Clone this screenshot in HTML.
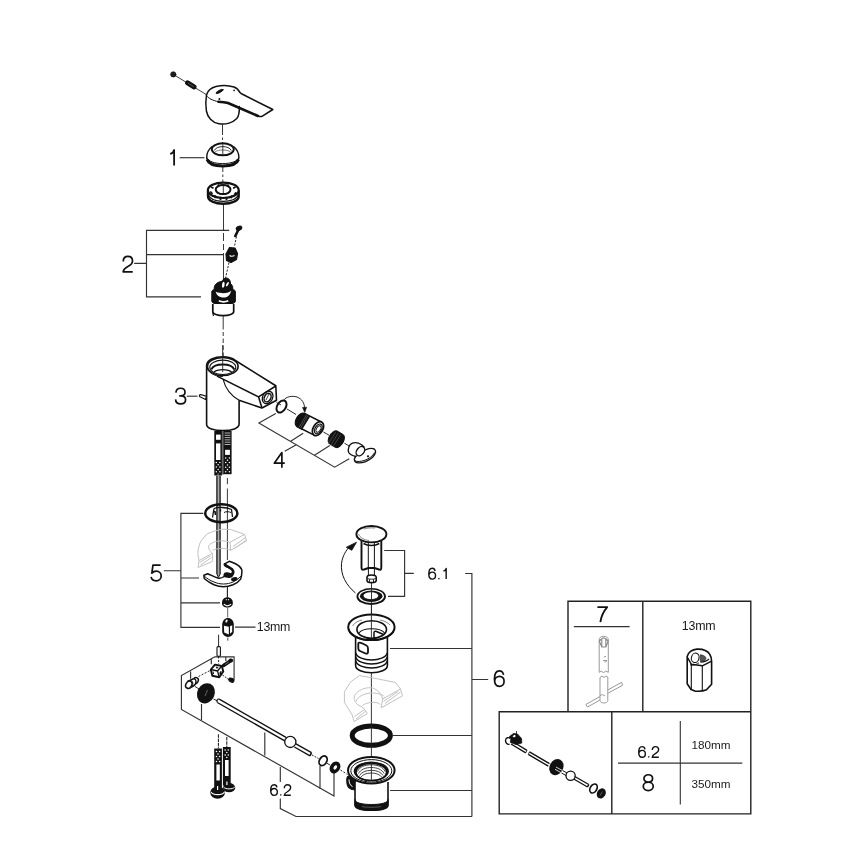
<!DOCTYPE html>
<html><head><meta charset="utf-8">
<style>
html,body{margin:0;padding:0;background:#fff;width:868px;height:868px;overflow:hidden}
svg{display:block;will-change:transform}
text{font-family:"Liberation Sans",sans-serif;fill:#1a1a1a}
</style></head><body>
<svg width="868" height="868" viewBox="0 0 868 868">
<rect width="868" height="868" fill="#fff"/>
<!-- BRACKETS -->
<g fill="none" stroke="#333" stroke-width="1.15">
 <path d="M179.7,157.7H204.4"/>
 <path d="M229.2,230.4H146.5V296.8H201M146.5,254.6H223.5M134.2,263.4H146.5"/>
 <path d="M186.7,396.2H197.5"/>
 <path d="M275.8,413.4L258.9,423L334.7,467.2L349.2,458.8M290.3,441.6L303.2,433.2M314.5,455.3L329.8,445.6M284.7,451.3L296.8,444.6"/>
 <path d="M203.3,513.4H180.9V627.4H220M180.9,578H199M180.9,602.8H220M163.8,570.7H180.9M235,627.1H255.5"/>
 <path d="M214.9,656.8L181.4,675.6V709.5L334,795.9V768M214.9,656.8H234.1V679.8M190.6,671.5V678.7M211.3,658.5V664.2M225.8,657.5V661M201.5,704V720M264.8,732.5V755.6M320,766V789M280.3,767V782M280.3,798.5V808.6L296,816.5H472"/>
 <path d="M384.2,550.5H404.6V596.3H388M404.6,573.4H413.8"/>
 <path d="M465.2,573.5H471.9V816.5M390,648.5H471.9M393,735.5H471.9M390,790.5H471.9M471.9,679.5H488.2"/>
</g>
<!-- BOXES -->
<g fill="none" stroke="#222" stroke-width="1.4">
 <path d="M568,711.8V601.3H750.8V813.9H499.2V711.8H750.8M642.8,601.3V711.8M611.8,711.8V813.9"/>
</g>
<g fill="none" stroke="#333" stroke-width="1.1">
 <path d="M573.8,626.6H629.6M680.3,721V804.4M618,763.1H742.3"/>
</g>

<!-- ===== HANDLE ===== -->
<g fill="none" stroke="#111" stroke-linejoin="round" stroke-linecap="round">
 <circle cx="173.3" cy="74.4" r="2.6" fill="#222" stroke="#111" stroke-width="0.8"/>
 <path d="M173.3,74.4L206.5,94.7" stroke-width="0.8"/>
 <path d="M187.6,82.8L194,86.8" stroke-width="5"/>
 <path d="M188.2,83.2L193.4,86.4" stroke="#666" stroke-width="0.8"/>
 <path d="M206.5,94.7C208,90 212,87.5 216,86.5C220,85.5 228,85 234,87C237,88 238.5,90 240,92.5C240.8,93.6 242,94 243,94.5L272.8,109.5L262,116.4C260.5,116.9 259.5,116.5 258,116" stroke-width="1.5" fill="#fff"/>
 <path d="M258,116L228,103C225,102 222,101.8 218.4,101.7" stroke-width="2.6"/>
 <path d="M218.4,101.7C213,100.5 208,98.5 206.5,95.5" stroke-width="1"/>
 <path d="M206.5,95C205.5,101 205.6,106 206.4,111C207.5,117 212,122.5 219,123.8C226,125 233,122.5 236.8,118.5C239,116 239.5,112 239.3,106.5" stroke-width="1.5"/>
 <ellipse cx="219.6" cy="91.4" rx="4" ry="1.15" transform="rotate(-28 219.6 91.4)" fill="#111" stroke-width="0.8"/>
 <circle cx="234.1" cy="90.3" r="0.9" fill="#111" stroke="none"/>
 <circle cx="219.4" cy="98.9" r="1" fill="#111" stroke="none"/>
</g>
<!-- axis handle->cap -->
<g stroke="#222" stroke-width="0.9" fill="none">
 <path d="M222.5,124.6V135M222.5,137.5V140M222.5,142V152" />
 <path d="M222.8,167V172M222.8,174.5V177M222.8,179.5V184"/>
 <path d="M223.5,204V230.5M223.5,233V241M223.5,244V250M223.5,253V281"/>
</g>

<!-- ===== CAP 1 ===== -->
<g fill="none" stroke="#111">
 <path d="M212,146.5C208.5,149.5 206.7,153 206.7,157.2C206.7,162.6 214,166.4 222.8,166.4C231.6,166.4 238.9,162.6 238.9,157.2C238.9,153 237,149.5 233.6,146.5" stroke-width="1.4" fill="#fff"/>
 <path d="M207.2,159.5C208.8,164 215.3,166 222.8,166C230.3,166 236.8,164 238.4,159.5" stroke-width="3.2"/>
 <path d="M206.9,157.5C208,161.5 215,163.6 222.8,163.6C230.6,163.6 237.6,161.5 238.7,157.5" stroke-width="1"/>
 <ellipse cx="222.8" cy="149.3" rx="11" ry="6" stroke-width="1.9" fill="#fff"/>
 <path d="M214.3,150.5C215.5,147.8 219,146.6 222.8,146.6C226.6,146.6 230,147.8 231.3,150.5" stroke-width="0.9"/>
 <path d="M215,152C217,150.5 219.5,150 222.8,150C226,150 228.8,150.5 230.6,152" stroke-width="0.8" stroke="#555"/>
 <path d="M222.8,143.5V154.5" stroke-width="0.8"/>
</g>

<!-- ===== NUT (below cap) ===== -->
<g fill="none" stroke="#111" stroke-linejoin="round">
 <path d="M207.9,190.5V196.3C207.9,200.8 215,204 223.3,204C231.6,204 238.8,200.8 238.8,196.3V190.5" stroke-width="2.2" fill="#fff"/>
 <ellipse cx="223.3" cy="190.3" rx="15.4" ry="7.7" stroke-width="2.2" fill="#fff"/>
 <path d="M208.4,195C210,199.2 216,201.3 223.3,201.3C230.6,201.3 236.6,199.2 238.3,195" stroke-width="1.3"/>
 <path d="M208.6,197.5C210,201 216,203 223.3,203C230.6,203 236.6,201 238.1,197.5" stroke-width="1"/>
 <ellipse cx="223.1" cy="189.6" rx="7.4" ry="4.5" stroke-width="2"/>
 <path d="M216.3,191.8C218,193.8 220.5,194.3 223.1,194.3C225.7,194.3 228.2,193.8 229.9,191.8" stroke-width="1"/>
 <path d="M210.3,191.5l2.2,2.5M214.5,195.3l1.2,2.8M220.5,197v3M226.5,197v3M232,195.5l-1,2.8M236.3,192.3l-2,2.2M211,187l2.5,1.2M235.6,187l-2.5,1.2M218,184.5l1,1.5M228.5,184.5l-1,1.5" stroke-width="1.8"/>
 <path d="M223.3,186V193" stroke-width="0.8"/>
</g>
<!-- ===== CARTRIDGE GROUP 2 ===== -->
<g fill="none" stroke="#111" stroke-linejoin="round">
 <!-- small screw -->
 <path d="M238.5,229.5L235.3,236" stroke-width="2.6" stroke-linecap="round"/>
 <ellipse cx="239" cy="228.3" rx="2.9" ry="2" transform="rotate(-25 239 228.3)" fill="#111" stroke-width="1"/>
 <path d="M236.5,236.5L234.6,245.5" stroke-width="0.9" stroke-dasharray="2.2 1.4"/>
 <!-- hex nut -->
 <path d="M229.5,247.5L235,248L237.5,253.5L236.5,259.5L231,262.5L226.5,260.5L226,254Z" fill="#111" stroke-width="1.2"/>
 <path d="M229.5,255.5C231,256.5 233,256.3 234.5,255.5" stroke="#fff" stroke-width="1.1"/>
 <path d="M229,262.5L225.5,278" stroke-width="0.9" stroke-dasharray="2.2 1.4"/>
 <!-- cartridge -->
 <path d="M214.2,292V288C214.2,284.2 218.3,281.3 223.5,281.3C228.7,281.3 232.8,284.2 232.8,288V292Z" fill="#111" stroke-width="1"/>
 <path d="M221.4,286C221,281.5 223,278.2 226,278C229,278 230.8,280.5 230.4,285Z" fill="#111" stroke-width="1"/>
 <ellipse cx="223.3" cy="284.7" rx="1.3" ry="3" transform="rotate(8 223.3 284.7)" fill="#fff" stroke="none"/>
 <ellipse cx="227.4" cy="284.2" rx="1" ry="2.4" transform="rotate(30 227.4 284.2)" fill="#fff" stroke="none"/>
 <path d="M211.8,291.5C211.8,289.5 217,288.5 223.6,288.5C230.2,288.5 235.4,289.5 235.4,291.5V301C235.4,303.5 230.2,305 223.6,305C217,305 211.8,303.5 211.8,301Z" fill="#111" stroke-width="1"/>
 <path d="M215.6,291.8C217,296 220,297.6 223.6,297.6C227.2,297.6 229.8,296 231.2,290.8C228.5,292.6 226,293.2 223.6,293.2C221,293.2 218.3,292.8 215.6,291.8Z" fill="#fff" stroke="none"/>
 <path d="M218.8,300.8C220.5,301.6 222,301.8 223.6,301.8C225.2,301.8 226.7,301.6 228.3,300.8" stroke="#fff" stroke-width="1.8"/>
 <path d="M212.8,304V311.5C212.8,314 217.5,315.6 223.2,315.6C228.9,315.6 233.7,314 233.7,311.5V304" stroke-width="1.7" fill="#fff"/>
 <path d="M212.8,312.5L213.5,316" stroke-width="1.2"/>
</g>
<g stroke="#222" stroke-width="0.9" fill="none">
 <path d="M223.2,316V329.5M223.2,332V336M223.2,338.5V343M223.2,345.5V350M223.2,352.5V375"/>
</g>

<!-- ===== FAUCET BODY 3 ===== -->
<g fill="none" stroke="#111" stroke-linejoin="round">
 <path d="M206.6,365V424.5C206.6,428.3 214,430.6 223,430.6C232,430.6 239.1,428.3 239.1,424V400.3" stroke-width="1.6" fill="#fff"/>
 <path d="M206.6,365C207.5,360 214,356.8 222.8,356.8C228,356.8 232.5,358 235,360.2L275.8,385.8L276.5,400.3L262,408L239.1,400.3" stroke-width="1.6" fill="#fff"/>
 <path d="M206.6,366C207,372 214,376.5 222.8,376.5" stroke-width="1"/>
 <path d="M217,376.1L258.5,396.8L275.8,386" stroke-width="1.5"/>
 <path d="M258.5,396.8L262,408" stroke-width="1.5"/>
 <path d="M223.2,379.6C225,387 230,395 239.1,400.3" stroke-width="1.1"/>
 <ellipse cx="222.8" cy="366.5" rx="15.3" ry="9" stroke-width="1.6"/>
 <ellipse cx="222.8" cy="367.3" rx="13" ry="7.2" stroke-width="1.1"/>
 <path d="M211.3,369.5C212.5,366.3 217,364.5 222.8,364.5C228.6,364.5 233,366.3 234.3,369.5" stroke-width="2"/>
 <path d="M213.5,372.3C215.5,370.5 219,369.6 222.8,369.6C226.6,369.6 230,370.5 232.1,372.3" stroke-width="1.1"/>
 <path d="M222.7,345V372" stroke="#222" stroke-width="0.9"/>
 <ellipse cx="267.6" cy="397.4" rx="5" ry="6.6" transform="rotate(28 267.6 397.4)" stroke-width="1.3"/>
 <ellipse cx="267.6" cy="397.6" rx="3.2" ry="4.5" transform="rotate(28 267.6 397.6)" stroke-width="1.5"/>
 <path d="M266,400L269,394" stroke-width="0.8"/>
 <!-- pin -->
 <path d="M200.6,394.6C199.4,394.4 199,396 200,396.8L205.5,399.5L206.5,396.4L201.5,394.8Z" fill="#fff" stroke-width="1.2"/>
</g>

<!-- ===== HOSES (upper) ===== -->
<g stroke="none">
 <rect x="221.5" y="431" width="2.5" height="43.5" fill="#666"/>
 <rect x="214.3" y="431" width="7.6" height="44.5" fill="#111"/>
 <rect x="223.6" y="431" width="8" height="43.2" fill="#111"/>
 <rect x="216" y="434.6" width="4.6" height="5.2" fill="#fff"/>
 <rect x="216" y="443.4" width="4.4" height="16.6" fill="#fff"/>
 <rect x="225.1" y="449.8" width="4.8" height="5.1" fill="#fff"/>
 <path d="M224.6,433h5.8M224.6,435.3h5.8M224.6,437.6h5.8M224.6,439.9h5.8M224.6,442.2h5.8M224.6,444.5h5.8" stroke="#ddd" stroke-width="0.8"/>
 <g fill="#fff">
  <circle cx="216.3" cy="462.5" r="0.75"/><circle cx="219.9" cy="462.5" r="0.75"/>
  <circle cx="218.1" cy="464.8" r="0.75"/>
  <circle cx="216.3" cy="467.1" r="0.75"/><circle cx="219.9" cy="467.1" r="0.75"/>
  <circle cx="218.1" cy="469.4" r="0.75"/>
  <circle cx="216.3" cy="471.7" r="0.75"/><circle cx="219.9" cy="471.7" r="0.75"/>
  <circle cx="218.1" cy="474" r="0.6"/>
  <circle cx="225.7" cy="458" r="0.75"/><circle cx="229.4" cy="458" r="0.75"/>
  <circle cx="227.5" cy="460.3" r="0.75"/>
  <circle cx="225.7" cy="462.6" r="0.75"/><circle cx="229.4" cy="462.6" r="0.75"/>
  <circle cx="227.5" cy="464.9" r="0.75"/>
  <circle cx="225.7" cy="467.2" r="0.75"/><circle cx="229.4" cy="467.2" r="0.75"/>
  <circle cx="227.5" cy="469.5" r="0.75"/>
  <circle cx="225.7" cy="471.8" r="0.75"/><circle cx="229.4" cy="471.8" r="0.75"/>
 </g>
</g>
<g fill="none" stroke="#111">
 <rect x="216.9" y="475.8" width="3.2" height="98.2" fill="#aaa" stroke="none"/>
 <path d="M216.9,475.8V574M220.1,475.8V574" stroke-width="1.25"/>
 <path d="M216.9,574L218.5,577.3L220.1,574" stroke-width="1" fill="#aaa"/>
 <path d="M227.4,478V484.2M227.4,488.5V560" stroke="#222" stroke-width="0.9"/>
</g>

<!-- ===== GROUP 4 (aerator) ===== -->
<g fill="none" stroke="#111" stroke-linejoin="round">
 <path d="M276.5,402.5L281,405" stroke-width="0.9"/>
 <path d="M287,409L296,414.5" stroke-width="0.9"/>
 <ellipse cx="281.5" cy="406.5" rx="4.3" ry="6.6" transform="rotate(32 281.5 406.5)" stroke-width="2"/>
 <!-- arrow -->
 <path d="M283.5,400.5C286,396.5 292,395.5 297,397C302,399 304.5,403 304.5,408" stroke-width="0.9"/>
 <path d="M302.5,407.5L304.8,412.5L306.6,407.2Z" fill="#111" stroke-width="0.6"/>
 <!-- aerator -->
 <path d="M304.4,413.4L321.9,422.3L314.1,435.1L296.6,426.2Z" fill="#fff" stroke="none"/>
 <path d="M304.4,413.4L321.9,422.3M296.6,426.2L314.1,435.1" stroke-width="1.6"/>
 <path d="M304.4,413.4L309.5,416.5L301.7,429.3L296.6,426.2A4.4,7.5 31 0 1 304.4,413.4Z" fill="#111" stroke-width="1.2"/>
 <path d="M306.5,414.8L299,427.3M308,415.6L300.5,428.2" stroke="#777" stroke-width="0.6"/>
 <ellipse cx="318" cy="428.7" rx="4.8" ry="7.6" transform="rotate(31 318 428.7)" fill="#fff" stroke-width="1.7"/>
 <ellipse cx="318.3" cy="428.9" rx="3.2" ry="5.3" transform="rotate(31 318.3 428.9)" stroke-width="1.3"/>
 <ellipse cx="318.5" cy="429" rx="2" ry="3.5" transform="rotate(31 318.5 429)" stroke-width="0.9"/>
 <path d="M323.4,432L329,435.2" stroke-width="0.9"/>
 <!-- nut -->
 <path d="M337.2,431L343.2,434.6A4.2,7.5 31 0 1 335.4,447.4L329.4,443.8A4.2,7.5 31 0 1 337.2,431Z" fill="#111" stroke-width="1"/>
 <path d="M335.8,431.8L328.2,444M338.2,433.2L330.6,445.4M340.6,434.6L333,446.8" stroke="#666" stroke-width="0.6"/>
 <path d="M344.4,443.2L350,446.5" stroke-width="0.9"/>
 <!-- key -->
 <path d="M356.8,455.5C360,452 363.5,450.2 366,449.6C369,448.4 372,447.9 374.2,449C376.6,450.5 375.8,454 372.6,457.2C368.6,460.6 363,462.9 358.5,462.9C355.5,462.9 354.1,461 354.4,459C354.7,457.5 355.8,456.3 356.8,455.5Z" fill="#fff" stroke-width="1.4"/>
 <path d="M355,460.8C357,462 361,461.6 365,460.2C369,458.8 372.8,456 374.6,452.6" stroke-width="1"/>
 <circle cx="368" cy="456.3" r="1.1" fill="#111" stroke="none"/>
 <path d="M348.6,452.2C347.6,448.8 349,444.6 352.4,443.2C355,442.2 358.2,442.6 361.6,444.8L364.3,447.2L356.5,455.8L350.5,454Z" fill="#fff" stroke="none"/>
 <path d="M348.6,452.2C347.6,448.8 349,444.6 352.4,443.2C355,442.2 358.2,442.6 361.6,444.8L364.3,447.2M348.6,452.2C349.5,454 352,455.5 356,456.5" stroke-width="1.3"/>
 <ellipse cx="360.4" cy="451.2" rx="3.6" ry="5.2" transform="rotate(38 360.4 451.2)" fill="#fff" stroke-width="1.4"/>
</g>

<!-- ===== GROUP 5 parts ===== -->
<g fill="none" stroke="#111" stroke-linejoin="round">
 <ellipse cx="221.3" cy="513.3" rx="16.1" ry="9" stroke-width="2.5"/>
 <path d="M214,508.5L212.5,517.5M214,508.5C218,507 226,507 231.5,509.5L232.5,517M220.5,509.2L220.5,511.5" stroke-width="1.3"/>
 <path d="M213,511.5L215,511.5L215.5,515" stroke-width="1.6"/>
 <path d="M224,512.5C226,511.3 229,511.5 231,512.5" stroke-width="1"/>
</g>
<!-- grey wedge -->
<g fill="none" stroke="#c2c2c2" stroke-width="1" stroke-linejoin="round">
 <path d="M198.9,560.6L197.9,553.7C198,548 199.5,543.5 201.3,540.6L206.5,534.4C210,532.5 213,531.3 216.2,530.6C219,529.8 221,529.3 223.1,529.2L230.7,529.5L244.5,534.4L230,542.3C228,541.5 225.5,540.9 223.1,540.9C218,540.9 214,541.5 212.7,542.7C210,543.8 208.6,545.5 208.6,546.8C208.6,549 209.5,550.5 212.4,553.4Z"/>
 <path d="M244.5,534.4L246.6,540.9L230.7,550.3L230,542.3M233,546.5L245,538M234.2,548.6L245.8,540.5"/>
 <path d="M212.4,553.4L212.7,561.3L198.2,567.5L198.9,560.6M200.5,565L211.5,557.5M199.5,562.5L210.5,555.8"/>
 <path d="M230.7,550.3C228,549 225.5,548.5 223.1,548.5C218,548.5 214.5,549.2 212.7,550.3"/>
</g>
<!-- c-clip -->
<g fill="none" stroke="#111" stroke-linejoin="round" stroke-linecap="round">
 <path d="M227.5,573V597" stroke="#222" stroke-width="0.9"/>
 <path d="M203.9,575.3L207.7,573.7C211,575 214.5,577 218,578C220.5,578.6 222,578 224,576.5L231.5,574C233.5,572 233,569.5 231,568.5C229,567.5 226,566.8 225.2,566C224.5,565 224.5,564 224.8,563.9L229.2,561.3C233,562.5 237,564 239.4,566.4C241.5,568.5 242.2,570 241.9,571.8C241.8,575 241.3,577.5 240.6,579.1C239,581.5 236,583.5 233,584.8C230,586 227,586.7 223.5,586.7C220,586.7 217,586 214,584.8C210,583 207,581 204.5,578.8C204,578 203.9,577 203.9,575.3Z" fill="#fff" stroke-width="1.5"/>
 <path d="M204.5,576.3C207,578.5 210,580.5 214,582C217,583.3 220,584 223.5,584C227,584 230,583.3 233,582C236,580.5 239,578.5 241,576.3" stroke-width="1"/>
 <path d="M224.8,564.3C227,566.5 230,567.5 232.2,569.5C233.5,571 233.3,573.5 231.8,575.3" stroke-width="2.6"/>
 <ellipse cx="228" cy="575.2" rx="4.6" ry="2.7" transform="rotate(10 228 575.2)" fill="#111" stroke="none"/>
 <ellipse cx="234.3" cy="579.1" rx="3.3" ry="2" transform="rotate(-15 234.3 579.1)" fill="#111" stroke="none"/>
 <path d="M227.3,588.6V597" stroke="#222" stroke-width="0.9"/>
</g>
<!-- small nut + cap nut -->
<g fill="none" stroke="#111" stroke-linejoin="round">
 <path d="M222,602.5C222,599.3 224.5,597.2 227.4,597.2C230.3,597.2 232.8,599.3 232.8,602.5V603.5C232.8,606 230.3,607.5 227.4,607.5C224.5,607.5 222,606 222,603.5Z" fill="#111" stroke="none"/>
 <path d="M223.8,604.2C225,605.4 226.2,605.8 227.4,605.8C228.6,605.8 229.8,605.4 231,604.2" stroke="#fff" stroke-width="1.2"/>
 <circle cx="226.3" cy="599.7" r="0.6" fill="#fff" stroke="none"/>
 <circle cx="228.6" cy="599.7" r="0.6" fill="#fff" stroke="none"/>
 <path d="M227.7,607.5V617.5" stroke="#555" stroke-width="0.9"/>
 <path d="M222.2,624.5C222.2,620.5 225,617.9 228,617.9C231,617.9 233.8,620.5 233.8,624.5V631.5C233.8,634.5 231,636.9 228,636.9C225,636.9 222.2,634.5 222.2,631.5Z" fill="#111" stroke="none"/>
 <path d="M223.9,625.8L228.8,626.8V634.6L224.2,632.6Z" fill="#fff" stroke="none"/>
 <path d="M230,626.3L232.2,625.2V631.8L230,633.8Z" fill="#fff" stroke="none"/>
 <ellipse cx="226.5" cy="621" rx="0.9" ry="1.7" transform="rotate(25 226.5 621)" fill="#fff" stroke="none"/>
 <path d="M227.8,637.5V640.7" stroke="#333" stroke-width="0.9"/>
</g>
<!-- ===== LOWER LEFT ASSEMBLY ===== -->
<g fill="none" stroke="#111" stroke-linejoin="round">
 <path d="M218.6,634.7V646.6" stroke-width="0.9"/>
 <rect x="217" y="646.6" width="3.4" height="9.6" rx="1" fill="#fff" stroke-width="1.1"/>
 <path d="M218.6,656.5V664" stroke-width="0.9" stroke-dasharray="2 1.5"/>
 <!-- cube -->
 <path d="M210.8,669.5L215,664.6L221.8,666L223.3,671.5L219.3,677.3L212.3,675.7Z" fill="#fff" stroke-width="1.9"/>
 <path d="M210.8,669.5L217.5,671L221.8,666M217.5,671L219.3,677.3" stroke-width="1.3"/>
 <path d="M213,671.5L213.5,674.2M219.5,673.5L221,671.5L220,675" stroke-width="1.1"/>
 <path d="M215.5,666.5L218.5,667L217,669Z" fill="#111" stroke="none"/>
 <!-- screw diag -->
 <path d="M223.5,665.5L231,660.5" stroke-width="3.4" stroke-linecap="round"/>
 <path d="M225,664.5L229.5,661.5" stroke="#777" stroke-width="0.8"/>
 <ellipse cx="230.8" cy="660.6" rx="2.3" ry="2" fill="#111" stroke="none"/>
 <!-- small screw -->
 <path d="M222.5,675L228,679" stroke-width="0.9" stroke-dasharray="1.8 1.2"/>
 <ellipse cx="231.5" cy="680.2" rx="3.1" ry="2.4" transform="rotate(30 231.5 680.2)" fill="#111" stroke="none"/>
 <path d="M228.5,678.5L230.5,680" stroke="#111" stroke-width="2.2"/>
 <!-- small cylinder -->
 <path d="M198.5,676.5L210.5,670.3" stroke-width="0.9" stroke-dasharray="2 1.5"/>
 <ellipse cx="195.6" cy="680.6" rx="2.6" ry="3.1" transform="rotate(30 195.6 680.6)" fill="#fff" stroke-width="1.4"/>
 <path d="M187.5,681.5L193,679C194.5,678.4 196,679.5 196,681.5C196,683.5 194.5,685.5 193,686.3L189.5,688" fill="#fff" stroke-width="1.4"/>
 <ellipse cx="188.8" cy="684.7" rx="2.9" ry="3.8" transform="rotate(30 188.8 684.7)" fill="#fff" stroke-width="1.5"/>
 <path d="M191.5,680.5C193,681.5 193.3,684 192.3,686" stroke-width="0.9"/>
 <path d="M195,686.5L199,689" stroke-width="0.9"/>
 <!-- knob -->
 <ellipse cx="205.9" cy="693.3" rx="8.7" ry="10.4" transform="rotate(25 205.9 693.3)" fill="#111" stroke="none"/>
 <path d="M205,696L207.5,690" stroke="#888" stroke-width="0.7"/>
 <path d="M213.5,699L217.5,701" stroke-width="0.9"/>
 <!-- long rod -->
 <path d="M219.2,699.2L286,737.3M217.3,702.5L284.3,740.6" stroke-width="1.35"/>
 <path d="M219.2,699.2C217.5,698.5 216.3,701 217.3,702.5" stroke-width="1.1"/>
 <circle cx="290.3" cy="741.9" r="5.6" fill="#fff" stroke-width="1.3"/>
 <path d="M295.5,743.7L311.5,752.7M294.4,747L310,755.8" stroke-width="1.35"/>
 <path d="M311.5,752.7L310,755.8" stroke-width="1.6"/>
 <path d="M312,755L318.5,758.5" stroke-width="0.9" stroke-dasharray="1.8 1.2"/>
 <ellipse cx="323.1" cy="760.8" rx="3.6" ry="5.1" transform="rotate(30 323.1 760.8)" stroke-width="1.8"/>
 <path d="M326.5,763L330,765" stroke-width="0.9"/>
 <ellipse cx="335" cy="767.5" rx="5" ry="6.3" transform="rotate(35 335 767.5)" fill="#111" stroke="none"/>
 <ellipse cx="335.3" cy="767.4" rx="1.5" ry="2.4" transform="rotate(35 335.3 767.4)" fill="#fff" stroke="none"/>
 <path d="M340.5,770L347.5,774.5" stroke-width="0.9" stroke-dasharray="2 1.5"/>
</g>

<!-- ===== LOWER HOSES ===== -->
<g stroke="none">
 <path d="M218.4,734.3V748.5M226.8,737V747" stroke="#111" stroke-width="1" stroke-dasharray="3.5 0.8"/>
 <rect x="214.2" y="748.5" width="7.7" height="40" fill="#111"/>
 <rect x="222.9" y="747" width="7.8" height="38.5" fill="#111"/>
 <rect x="216.4" y="764.5" width="3.4" height="16" fill="#fff"/>
 <rect x="225" y="760" width="3.6" height="16" fill="#fff"/>
 <g fill="#fff">
  <circle cx="216.5" cy="751.5" r="0.8"/><circle cx="219.6" cy="751.5" r="0.8"/>
  <circle cx="218" cy="754" r="0.8"/>
  <circle cx="216.5" cy="756.5" r="0.8"/><circle cx="219.6" cy="756.5" r="0.8"/>
  <circle cx="218" cy="759" r="0.8"/>
  <circle cx="216.5" cy="761.5" r="0.8"/><circle cx="219.6" cy="761.5" r="0.8"/>
  <circle cx="225.2" cy="750" r="0.8"/><circle cx="228.3" cy="750" r="0.8"/>
  <circle cx="226.8" cy="752.5" r="0.8"/>
  <circle cx="225.2" cy="755" r="0.8"/><circle cx="228.3" cy="755" r="0.8"/>
  <circle cx="226.8" cy="757.5" r="0.8"/>
 </g>
 <ellipse cx="229.1" cy="787.7" rx="6.2" ry="4.6" fill="#111"/>
 <path d="M223.5,787C225,789.5 233,789.5 234.8,787" stroke="#fff" stroke-width="1" fill="none"/>
 <ellipse cx="217.6" cy="792.6" rx="7.4" ry="6.2" fill="#111"/>
 <path d="M211,792C213,795.5 222.5,795.5 224.5,792" stroke="#fff" stroke-width="1.1" fill="none"/>
 <rect x="217" y="786" width="1.2" height="4" fill="#fff"/>
 <rect x="226.3" y="781.5" width="1.2" height="3.5" fill="#fff"/>
</g>

<!-- ===== DRAIN: plug 6.1 ===== -->
<g fill="none" stroke="#111" stroke-linejoin="round">
 <path d="M361.5,541V567.5C361.5,569.5 362.3,570.3 364,569.5L368.5,568H374.5L379,569.5C380.5,570.3 381.3,569.5 381.3,567.5V541" fill="#fff" stroke-width="1.9"/>
 <path d="M368.3,542V568M374.4,542V568" stroke-width="1"/>
 <path d="M363.5,543.5C366,545 369,545.5 371.4,545.5C374,545.5 377,545 379.3,543.5" stroke-width="1.5"/>
 <ellipse cx="371.4" cy="534.2" rx="15" ry="8.2" fill="#fff" stroke-width="1.9"/>
 <path d="M358.5,534C360,538 364.5,540 369,540.5M364,529C367,528 371,527.6 375,528" stroke="#666" stroke-width="0.8"/>
 <path d="M368.4,568.5V575M374.4,568.5V575" stroke-width="1"/>
 <path d="M367,577.3C367,575.8 369,575 371.5,575C374,575 376.2,575.8 376.2,577.3V580.5C376.2,582 374,582.6 371.5,582.6C369,582.6 367,582 367,580.5Z" fill="#fff" stroke-width="1.6"/>
 <path d="M367.5,578.5C369,579.5 374,579.5 375.7,578.5M369.5,579.3V582M373.5,579.3V582" stroke-width="0.9"/>
 <!-- arrow arc -->
 <path d="M355.5,593C346,585 340.5,575 341.5,563.5C342.5,556 346,550 350,546.5" stroke-width="1"/>
 <path d="M356.5,542.2L346.3,547.3L351.8,550.3Z" fill="#111" stroke="#111" stroke-width="0.8"/>
 <!-- washer -->
 <ellipse cx="371.2" cy="596.5" rx="14.7" ry="8.4" fill="#111" stroke="none"/>
 <ellipse cx="371.2" cy="596.3" rx="12.8" ry="6.8" fill="#fff" stroke="none"/>
 <ellipse cx="371.2" cy="596.3" rx="11.3" ry="5.7" fill="#111" stroke="none"/>
 <ellipse cx="370.9" cy="595.7" rx="7.8" ry="3.9" fill="#fff" stroke="#111" stroke-width="0.8"/>
 <path d="M371.5,582.7V615" stroke="#222" stroke-width="0.9"/>
</g>

<!-- ===== DRAIN BODY ===== -->
<g fill="none" stroke="#111" stroke-linejoin="round">
 <path d="M355.6,637V665.5C355.6,670 363,672.8 371.5,672.8C380,672.8 387.4,670 387.4,665.5V637" fill="#fff" stroke-width="1.6"/>
 <path d="M355.8,653C357,657.5 364,660 371.5,660C379,660 386,657.5 387.2,653M355.8,657C357,661.5 364,664 371.5,664C379,664 386,661.5 387.2,657M355.8,661C357,665.5 364,668 371.5,668C379,668 386,665.5 387.2,661" stroke-width="1.4"/>
 <path d="M358.3,643.5C358.3,642.5 360,642.5 362,643.3L366.5,645.5C367.5,646 368,647 368,648.5V652C368,653.5 367,654 365.5,653.5L360,651C358.8,650.5 358.3,649.5 358.3,648.5Z" stroke-width="1.8"/>
 <ellipse cx="371.4" cy="627.2" rx="23.2" ry="12.8" fill="#fff" stroke-width="2"/>
 <path d="M348.8,629C350,636 360,640.3 371.4,640.3C382.8,640.3 393,636 394,629" stroke-width="1.5"/>
 <ellipse cx="371.7" cy="629.5" rx="14.8" ry="8.8" fill="#fff" stroke-width="1.6"/>
 <path d="M358.5,633.5C361,630 366,628.8 371.7,628.8C377.4,628.8 382.5,630 385,633.5" stroke-width="1.1"/>
 <path d="M374,638V632.5C374,631.3 375,631 376.5,631.5L383.5,634.5" stroke-width="1.5"/>
 <path d="M352.5,626C354.5,622.5 359,620.5 362,620M380,620C384.5,620.8 388,622.8 390,625" stroke="#666" stroke-width="0.8"/>
 <path d="M371.4,605V638M371.4,673V723.5" stroke="#222" stroke-width="0.9"/>
</g>
<!-- grey wedge (drain) -->
<g fill="none" stroke="#c2c2c2" stroke-width="1" stroke-linejoin="round">
 <path d="M352.1,714.8L344.4,702.3V691.8L350.5,682.1L359.4,675.6L373.9,678.1L395.6,682.5L400.5,689L382.7,699C381,693 376,688 370.6,687.7C365,687.5 357.5,690 354.5,695.8C353.5,699 355,702.5 357.5,704.5L363.4,707.9"/>
 <path d="M400.5,689L402.5,695.8L381.1,707.9L382.7,699M385,703.5L400.5,692M383.5,701.5L398,691.5"/>
 <path d="M363.4,707.9L367.4,713.5L354.1,721.6L352.1,714.8M356,719L366,711M354.5,716.5L364.5,709.5"/>
 <path d="M356.1,701.5C357,697.5 363,693 372.3,693C378,693 382.5,694.5 384.4,696.6M362.6,705.5C364,704 368,702.5 373.9,702.3C377,702.3 379,703.3 380.3,704.7"/>
</g>
<!-- ===== BLACK RING ===== -->
<ellipse cx="371.3" cy="735.6" rx="19.1" ry="9.7" fill="none" stroke="#111" stroke-width="5"/>
<path d="M371.4,723V762" stroke="#222" stroke-width="0.9"/>

<!-- ===== BASKET ===== -->
<g fill="none" stroke="#111" stroke-linejoin="round">
 <path d="M348.5,776C346.8,776.5 346.5,780 347,783.5C347.5,787 349.5,788.8 352,789.5L356,790L356,782Z" fill="#111" stroke-width="1.2"/>
 <path d="M349,779.5C349,782.5 350,785.5 352.5,786.5" stroke="#fff" stroke-width="1"/>
 <path d="M355,782V805C355,808.5 362,810.3 371.5,810.3C381,810.3 388,808.5 388,805V782" fill="#fff" stroke-width="1.6"/>
 <path d="M355,799.5V805C355,808.5 362,810.3 371.5,810.3C381,810.3 388,808.5 388,805V799.5C388,802.8 381,804.5 371.5,804.5C362,804.5 355,802.8 355,799.5Z" fill="#111" stroke-width="1"/>
 <path d="M362,806.5C366,807.5 377,807.5 381,806.5" stroke="#777" stroke-width="0.7"/>
 <ellipse cx="371.3" cy="770.3" rx="23.3" ry="13.2" fill="#fff" stroke-width="2"/>
 <ellipse cx="371.3" cy="770.8" rx="20.5" ry="11.2" fill="none" stroke-width="1"/>
 <ellipse cx="371.3" cy="771.3" rx="17.6" ry="9.8" fill="#111" stroke="none"/>
 <ellipse cx="371.3" cy="772.2" rx="14.4" ry="7.9" fill="#fff" stroke="none"/>
 <path d="M357.5,771.5C359.5,767 364.5,764.8 371.3,764.8C378.1,764.8 383,767 385.1,771.5" stroke="#444" stroke-width="1"/>
 <path d="M358.5,773.5C360.5,769.5 365.5,767.5 371.3,767.5C377.1,767.5 382,769.5 384.1,773.5" stroke="#444" stroke-width="1"/>
 <path d="M359.5,775.5C361.5,772 366,770.3 371.3,770.3C376.6,770.3 381,772 383.1,775.5" stroke="#444" stroke-width="1"/>
 <path d="M360.5,777.5C362.5,774.5 366.5,773 371.3,773C376.1,773 380,774.5 382.1,777.5" stroke="#444" stroke-width="1"/>
 <path d="M357,776C361,779.5 366,780.5 371.3,780.5C376.6,780.5 381.6,779.5 385.6,776" stroke-width="1.6"/>
 <path d="M371.4,762V780" stroke="#222" stroke-width="0.9"/>
</g>
<!-- ===== BOX 7 tool (grey) ===== -->
<g fill="none" stroke="#999" stroke-width="1" stroke-linejoin="round">
 <path d="M599.2,672.3V640C599.2,637.5 601,636.3 603.7,636.3C606.4,636.3 608.3,637.5 608.3,640V672.3L605.5,671L603.5,673L601.5,671Z"/>
 <path d="M599.3,641L601.8,647H605.8L608.2,641M601.8,647V639.5M605.8,647V639.5M601.5,639L603.7,637.8L606,639M599.3,641L601.5,639M608.2,641L606,639" stroke="#888" stroke-width="1.1"/>
 <path d="M604,657L606,656.5M603,660.5H607M604.5,662L606.5,661.5"/>
 <path d="M600,700.5V677.5L602,676L604,677.5L606,676L607.8,677V700.5C607.8,702 606,703 603.9,703C601.8,703 600,702 600,700.5Z"/>
 <path d="M585.8,704.5L600,696.5M587.5,707L600,700M607.8,690L621.6,682.3M607.8,693.3L622.5,685.3M621.6,682.3L622.5,685.3M585.8,704.5L587.5,707"/>
 <path d="M600,695.5C601.5,694.5 603.5,694.5 605,696" />
</g>
<!-- nut 13mm -->
<g fill="none" stroke="#111" stroke-linejoin="round">
 <path d="M687.2,656.5C688,652.5 692,649.4 697,649.1C702.5,648.9 707.5,650.6 709.7,654.2C711,656.2 711.6,658.5 711.6,661.2V684.2L706.5,689.8C703,691.3 699,691.5 695,691.1L691,689.5L687.2,683.8Z" fill="#fff" stroke-width="1.6"/>
 <path d="M687.2,657.2L691.3,664.2L702.3,665.8L711.6,661.2" stroke-width="1.4"/>
 <path d="M691.3,664.2V689.5M702.3,665.8V691.1" stroke-width="1.1"/>
 <path d="M700.3,654.8C703,655 705,656 705.8,657.6C706.2,659 705.5,660.5 703.3,661.2L700.3,661.5Z" fill="#555" stroke-width="0.6"/>
 <ellipse cx="695.2" cy="657.8" rx="3.8" ry="4.8" transform="rotate(15 695.2 657.8)" fill="#fff" stroke-width="1.1"/>
 <path d="M700.5,662.3C703.5,662 707,661 709,659" stroke-width="1.1"/>
 <path d="M690,664.5C692,666 695,665.2 699,662.8" stroke-width="0.9"/>
</g>

<!-- ===== BOX 8 rod icon ===== -->
<g fill="none" stroke="#111" stroke-linejoin="round">
 <path d="M512.5,741.5L527,750.3M511,744L525.8,752.8M529.5,751.8L549.5,763.7M528.3,754.3L548.3,766.2" stroke-width="1.35"/>
 <path d="M527,750.3L525.8,752.8M529.5,751.8L528.3,754.3" stroke-width="0.8"/>
 <path d="M509.5,736.5L513.5,733.5L517.5,734L521.5,738.5L521.8,743L516,744.5L510.5,742.5Z" fill="#111" stroke="#111" stroke-width="0.8"/>
 <path d="M512.5,736.2L514.5,734.8L516,736L514,737.5Z" fill="#fff" stroke="none"/>
 <path d="M510.5,738.5C508.5,737 506,737.5 505.6,740C505.2,742.5 507,744.8 509.5,744.3" fill="#fff" stroke-width="1.4"/>
 <path d="M507,739.5L509,742.5" stroke="#fff" stroke-width="0.6"/>
 <path d="M516.5,731V735.3" stroke-width="0.8"/>
 <ellipse cx="556.4" cy="767.1" rx="6.8" ry="8.4" transform="rotate(28 556.4 767.1)" fill="#111" stroke="none"/>
 <path d="M556,767L566,772.5M555,769.3L565,774.8" stroke="#fff" stroke-width="0.8"/>
 <path d="M562.5,770.5L567,773M561.5,773L566,775.5" stroke-width="1"/>
 <circle cx="570.6" cy="775.8" r="4.6" fill="#fff" stroke-width="1.3"/>
 <path d="M574.8,776.5L588.8,784.5M573.7,779L587.5,787" stroke-width="1.3"/>
 <path d="M588.8,784.5L587.5,787" stroke-width="1.6"/>
 <ellipse cx="593.5" cy="788.5" rx="3.3" ry="4.8" transform="rotate(30 593.5 788.5)" stroke-width="1.7"/>
 <ellipse cx="601.3" cy="793.4" rx="4.3" ry="5.3" transform="rotate(30 601.3 793.4)" fill="#111" stroke="none"/>
 <path d="M600,795.5L602.5,791.5" stroke="#777" stroke-width="0.7"/>
</g>

<g fill="none" stroke="#111" stroke-width="1.80" stroke-linecap="butt" stroke-linejoin="round"><path transform="translate(169.86,149.90) scale(1.1214,1.1214)" d="M0.3,3.6 C1.8,3.3 3.2,2.6 3.8,0.1 V14" vector-effect="non-scaling-stroke"/></g><g fill="none" stroke="#111" stroke-width="1.70" stroke-linecap="butt" stroke-linejoin="round"><path transform="translate(122.26,256.35) scale(1.1143,1.1143)" d="M0.9,4.6 C0.9,1.7 2.6,0 5,0 C7.5,0 9.2,1.7 9.2,4.1 C9.2,6.3 7.8,7.6 5.4,8.9 C2.6,10.4 1,11.8 0.8,13.9 H9.4" vector-effect="non-scaling-stroke"/></g><g fill="none" stroke="#111" stroke-width="1.70" stroke-linecap="butt" stroke-linejoin="round"><path transform="translate(174.99,388.25) scale(1.1143,1.1143)" d="M0.8,3.9 C1,1.4 2.8,0 5,0 C7.4,0 9,1.5 9,3.6 C9,5.6 7.5,6.8 5.2,6.8 H3.8 M5.2,6.8 C7.9,6.8 9.5,8.3 9.5,10.3 C9.5,12.6 7.6,14 5,14 C2.3,14 0.6,12.5 0.5,10" vector-effect="non-scaling-stroke"/></g><g fill="none" stroke="#111" stroke-width="1.70" stroke-linecap="butt" stroke-linejoin="round"><path transform="translate(273.80,452.15) scale(1.1214,1.1214)" d="M7.2,14 V0.3 L0.4,9.8 H9.8" vector-effect="non-scaling-stroke"/></g><g fill="none" stroke="#111" stroke-width="1.70" stroke-linecap="butt" stroke-linejoin="round"><path transform="translate(150.46,564.85) scale(1.1429,1.1429)" d="M8.9,0.2 H2.2 L1.2,7.3 C2.1,6.2 3.5,5.5 5.1,5.5 C7.7,5.5 9.4,7.3 9.4,9.7 C9.4,12.3 7.5,14 5,14 C2.6,14 0.9,12.7 0.6,10.6" vector-effect="non-scaling-stroke"/></g><g fill="none" stroke="#111" stroke-width="1.70" stroke-linecap="butt" stroke-linejoin="round"><path transform="translate(493.68,670.85) scale(1.1071,1.1071)" d="M8.9,3.6 C8.5,1.3 7,0 5.1,0 C2.1,0 0.7,2.8 0.7,7.4 C0.7,11.6 2.4,14 5.1,14 C7.7,14 9.4,12 9.4,9.3 C9.4,6.7 7.7,5 5.3,5 C2.8,5 0.9,6.8 0.9,9.3" vector-effect="non-scaling-stroke"/></g><g fill="none" stroke="#111" stroke-width="1.80" stroke-linecap="butt" stroke-linejoin="round"><path transform="translate(596.85,606.90) scale(1.0929,1.0929)" d="M0.5,0.2 H9.5 C6.3,3.8 4,8.5 3.2,14" vector-effect="non-scaling-stroke"/></g><g fill="none" stroke="#111" stroke-width="1.70" stroke-linecap="butt" stroke-linejoin="round"><path transform="translate(642.57,774.75) scale(1.1357,1.1357)" d="M5,6.5 C2.7,6.5 1.2,5.2 1.2,3.3 C1.2,1.3 2.8,0 5,0 C7.2,0 8.8,1.3 8.8,3.3 C8.8,5.2 7.3,6.5 5,6.5 C7.6,6.5 9.4,8.1 9.4,10.2 C9.4,12.5 7.5,14 5,14 C2.5,14 0.6,12.5 0.6,10.2 C0.6,8.1 2.4,6.5 5,6.5 Z" vector-effect="non-scaling-stroke"/></g><g fill="none" stroke="#111" stroke-width="1.40" stroke-linecap="butt" stroke-linejoin="round"><path transform="translate(428.26,568.30) scale(0.7714,0.7714)" d="M8.9,3.6 C8.5,1.3 7,0 5.1,0 C2.1,0 0.7,2.8 0.7,7.4 C0.7,11.6 2.4,14 5.1,14 C7.7,14 9.4,12 9.4,9.3 C9.4,6.7 7.7,5 5.3,5 C2.8,5 0.9,6.8 0.9,9.3" vector-effect="non-scaling-stroke"/><path transform="translate(436.75,568.30) scale(0.7714,0.7714)" d="M1.9,12.5 h1.8 v1.6 h-1.8 Z" fill="#111" stroke="none"/><path transform="translate(443.23,568.30) scale(0.7714,0.7714)" d="M0.3,3.6 C1.8,3.3 3.2,2.6 3.8,0.1 V14" vector-effect="non-scaling-stroke"/></g><g fill="none" stroke="#111" stroke-width="1.40" stroke-linecap="butt" stroke-linejoin="round"><path transform="translate(270.16,784.70) scale(0.7643,0.7643)" d="M8.9,3.6 C8.5,1.3 7,0 5.1,0 C2.1,0 0.7,2.8 0.7,7.4 C0.7,11.6 2.4,14 5.1,14 C7.7,14 9.4,12 9.4,9.3 C9.4,6.7 7.7,5 5.3,5 C2.8,5 0.9,6.8 0.9,9.3" vector-effect="non-scaling-stroke"/><path transform="translate(278.57,784.70) scale(0.7643,0.7643)" d="M1.9,12.5 h1.8 v1.6 h-1.8 Z" fill="#111" stroke="none"/><path transform="translate(283.62,784.70) scale(0.7643,0.7643)" d="M0.9,4.6 C0.9,1.7 2.6,0 5,0 C7.5,0 9.2,1.7 9.2,4.1 C9.2,6.3 7.8,7.6 5.4,8.9 C2.6,10.4 1,11.8 0.8,13.9 H9.4" vector-effect="non-scaling-stroke"/></g><g fill="none" stroke="#111" stroke-width="1.40" stroke-linecap="butt" stroke-linejoin="round"><path transform="translate(638.17,746.60) scale(0.7643,0.7643)" d="M8.9,3.6 C8.5,1.3 7,0 5.1,0 C2.1,0 0.7,2.8 0.7,7.4 C0.7,11.6 2.4,14 5.1,14 C7.7,14 9.4,12 9.4,9.3 C9.4,6.7 7.7,5 5.3,5 C2.8,5 0.9,6.8 0.9,9.3" vector-effect="non-scaling-stroke"/><path transform="translate(646.57,746.60) scale(0.7643,0.7643)" d="M1.9,12.5 h1.8 v1.6 h-1.8 Z" fill="#111" stroke="none"/><path transform="translate(651.62,746.60) scale(0.7643,0.7643)" d="M0.9,4.6 C0.9,1.7 2.6,0 5,0 C7.5,0 9.2,1.7 9.2,4.1 C9.2,6.3 7.8,7.6 5.4,8.9 C2.6,10.4 1,11.8 0.8,13.9 H9.4" vector-effect="non-scaling-stroke"/></g>
<text x="256.8" y="630.9" font-size="12.4" letter-spacing="-0.3">13mm</text>
<text x="681.8" y="630.4" font-size="12.4" letter-spacing="-0.2">13mm</text>
<text x="691.6" y="748.6" font-size="11.7">180mm</text>
<text x="691.6" y="788" font-size="11.7">350mm</text>
</svg>
</body></html>
